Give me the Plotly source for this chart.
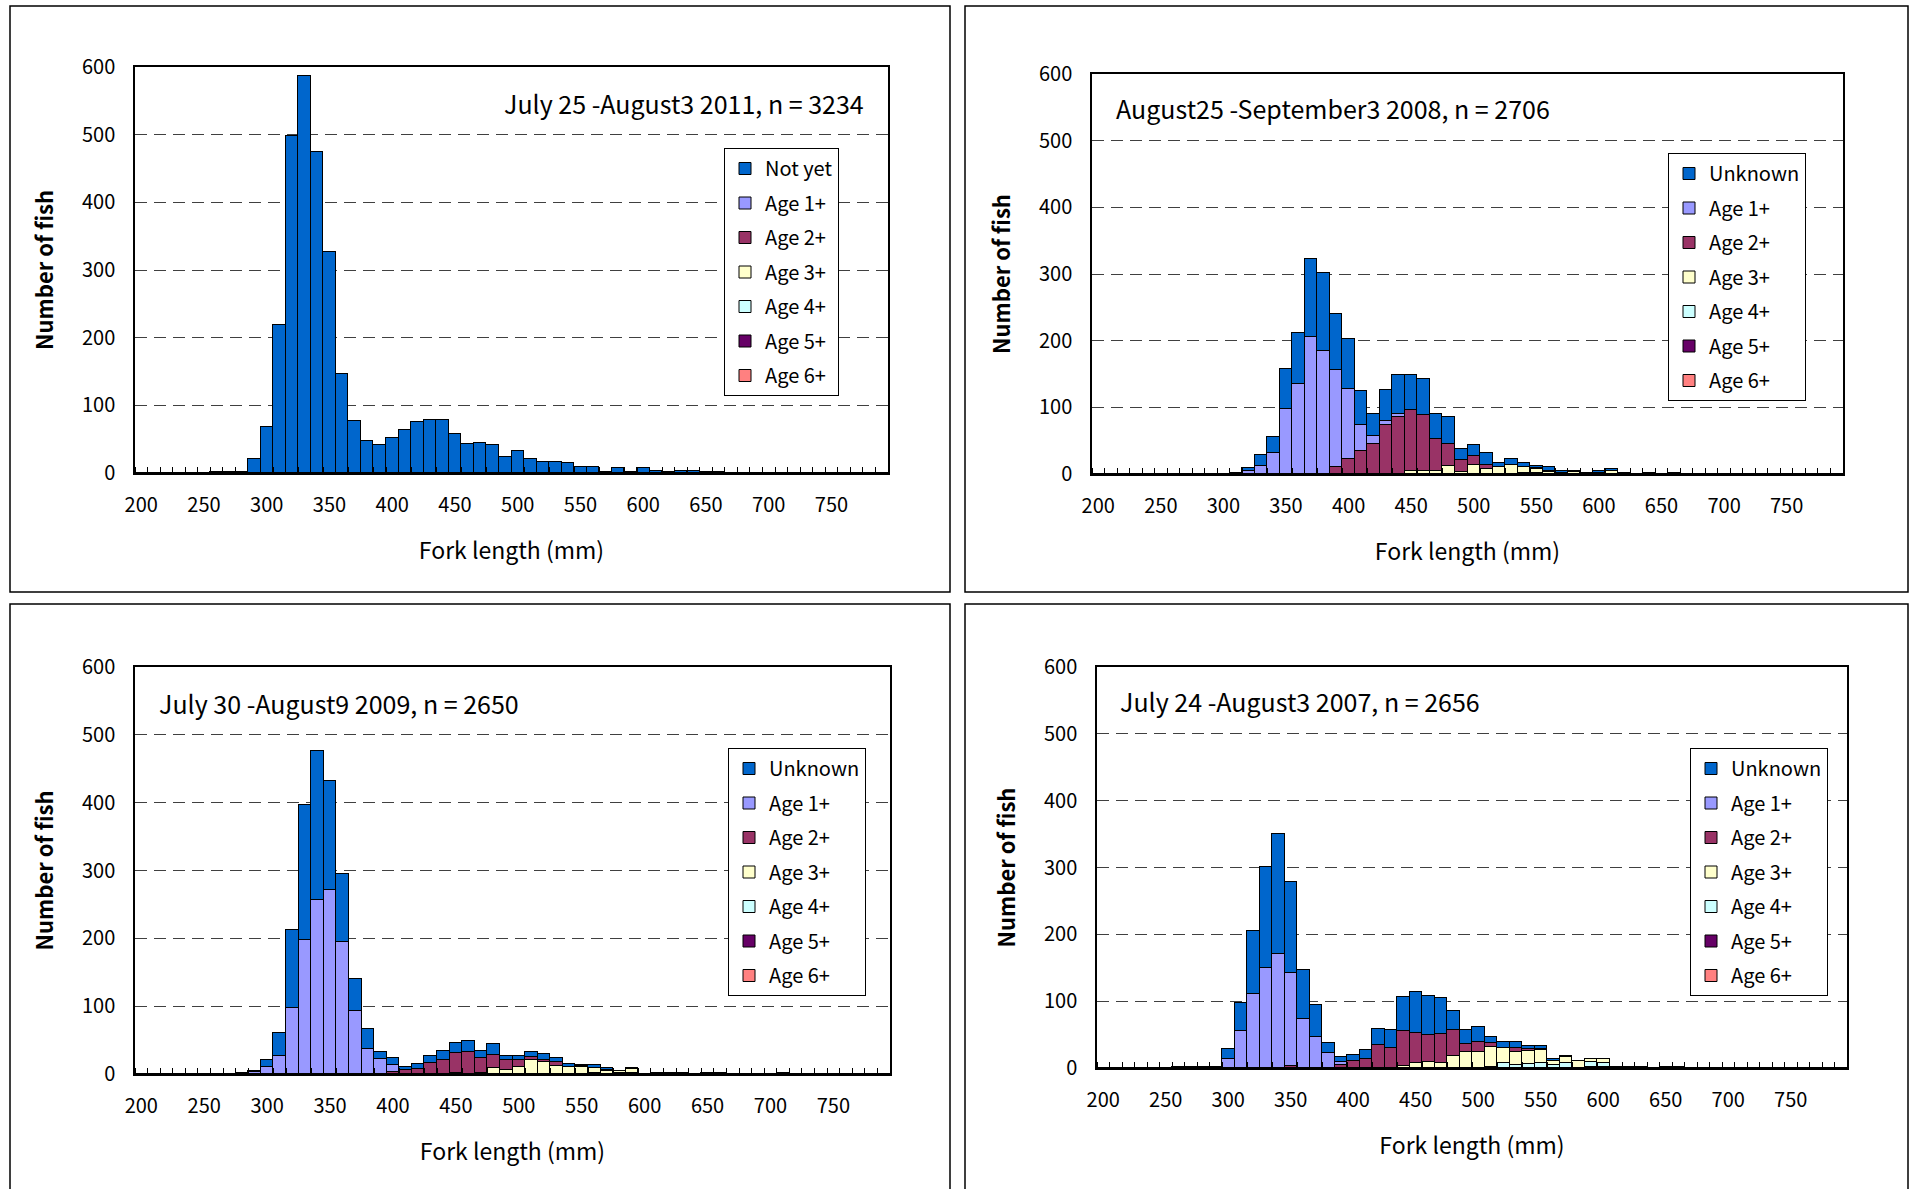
import plotly.graph_objects as go

# ---------------- data ----------------
FORK_LENGTH_BINS = list(range(200, 800, 10))   # category (10 mm classes)
X_TICK_LABELS = [200, 250, 300, 350, 400, 450, 500, 550, 600, 650, 700, 750]
Y_TICK_LABELS = [0, 100, 200, 300, 400, 500, 600]
SERIES_NAMES = ["Unknown", "Age 1+", "Age 2+", "Age 3+", "Age 4+", "Age 5+", "Age 6+"]

# 2011 (July 25 - August 3), n = 3234
Y2011_NOT_YET = {260: 1, 270: 1, 280: 2, 290: 21, 300: 68, 310: 218, 320: 498, 330: 587, 340: 474,
                 350: 327, 360: 147, 370: 77, 380: 48, 390: 41, 400: 52, 410: 64, 420: 76, 430: 78,
                 440: 78, 450: 58, 460: 43, 470: 45, 480: 41, 490: 23, 500: 33, 510: 21, 520: 16,
                 530: 16, 540: 15, 550: 9, 560: 9, 570: 1, 580: 8, 590: 1, 600: 8, 610: 3, 620: 1,
                 630: 3, 640: 3, 650: 1, 660: 1}

# 2008 (August 25 - September 3), n = 2706
Y2008_UNKNOWN = {310: 2, 320: 5, 330: 16, 340: 25, 350: 60, 360: 77, 370: 116, 380: 117, 390: 84,
                 400: 75, 410: 52, 420: 33, 430: 46, 440: 58, 450: 52, 460: 54, 470: 37, 480: 41,
                 490: 17, 500: 17, 510: 17, 520: 6, 530: 9, 540: 6, 550: 3, 560: 5, 570: 3, 580: 2,
                 590: 1, 600: 3, 610: 4, 620: 2, 640: 1, 660: 1}
Y2008_AGE1 = {320: 4, 330: 12, 340: 31, 350: 98, 360: 135, 370: 206, 380: 185, 390: 146, 400: 105,
              410: 38, 420: 12, 430: 7, 440: 4}
Y2008_AGE2 = {390: 10, 400: 22, 410: 35, 420: 45, 430: 73, 440: 86, 450: 91, 460: 83, 470: 48,
              480: 33, 490: 18, 500: 14, 510: 6, 550: 2, 560: 2}
Y2008_AGE3 = {450: 5, 460: 5, 470: 5, 480: 12, 490: 3, 500: 13, 510: 8, 520: 10, 530: 13, 540: 10,
              550: 6, 560: 3, 570: 2, 580: 3, 600: 2, 610: 4}
Y2008_AGE4 = {}
Y2008_AGE5 = {540: 1, 550: 1}
Y2008_AGE6 = {}

# 2009 (July 30 - August 9), n = 2650
Y2009_UNKNOWN = {280: 1, 290: 2, 300: 11, 310: 34, 320: 116, 330: 200, 340: 220, 350: 161, 360: 100,
                 370: 47, 380: 29, 390: 10, 400: 10, 410: 4, 420: 8, 430: 10, 440: 14, 450: 15,
                 460: 15, 470: 10, 480: 16, 490: 6, 500: 6, 510: 7, 520: 9, 530: 6, 540: 4, 550: 2,
                 560: 4, 570: 3, 590: 2, 610: 2, 620: 1, 630: 2, 650: 1, 660: 1, 710: 1}
Y2009_AGE1 = {290: 3, 300: 10, 310: 26, 320: 97, 330: 197, 340: 256, 350: 271, 360: 195, 370: 93,
              380: 37, 390: 22, 400: 10}
Y2009_AGE2 = {400: 3, 410: 6, 420: 7, 430: 16, 440: 20, 450: 30, 460: 33, 470: 22, 480: 19, 490: 14,
              500: 10, 510: 4, 520: 3, 530: 5, 550: 1, 570: 1}
Y2009_AGE3 = {450: 1, 480: 9, 490: 6, 500: 10, 510: 21, 520: 18, 530: 12, 540: 11, 550: 11, 560: 7,
              570: 5, 580: 2, 590: 6}
Y2009_AGE4 = {470: 2}
Y2009_AGE5 = {560: 2, 580: 2, 590: 1}
Y2009_AGE6 = {}

# 2007 (July 24 - August 3), n = 2656
Y2007_UNKNOWN = {260: 1, 270: 1, 280: 1, 290: 1, 300: 16, 310: 43, 320: 95, 330: 151, 340: 180,
                 350: 137, 360: 72, 370: 48, 380: 16, 390: 8, 400: 8, 410: 13, 420: 25, 430: 27,
                 440: 51, 450: 60, 460: 59, 470: 53, 480: 28, 490: 21, 500: 22, 510: 9, 520: 9,
                 530: 9, 540: 4, 550: 5, 560: 4, 570: 2, 610: 1, 620: 1, 630: 1, 650: 1, 660: 1}
Y2007_AGE1 = {300: 13, 310: 55, 320: 110, 330: 150, 340: 170, 350: 139, 360: 74, 370: 47, 380: 22,
              390: 5, 400: 1, 410: 1}
Y2007_AGE2 = {350: 3, 390: 4, 400: 10, 410: 13, 420: 34, 430: 30, 440: 52, 450: 46, 460: 40, 470: 44,
              480: 39, 490: 12, 500: 15, 510: 6, 530: 6, 540: 4, 550: 1}
Y2007_AGE3 = {440: 3, 450: 7, 460: 9, 470: 7, 480: 18, 490: 24, 500: 24, 510: 30, 520: 23, 530: 20,
              540: 19, 550: 19, 560: 6, 570: 8, 580: 10, 590: 5, 600: 6}
Y2007_AGE4 = {520: 7, 530: 4, 540: 6, 550: 8, 560: 4, 570: 8, 590: 7, 600: 7}
Y2007_AGE5 = {510: 2, 590: 2, 600: 1}
Y2007_AGE6 = {}

# ---------------- styles ----------------
COLORS = {"Unknown": "#0066CC", "Age 1+": "#9999FF", "Age 2+": "#993366", "Age 3+": "#FFFFCC",
          "Age 4+": "#CCFFFF", "Age 5+": "#660066", "Age 6+": "#FF8080"}
FONT = "Noto Sans CJK JP"
W, H = 1910, 1189


def fx(p):
    return p / W


def fy(p):
    return 1 - p / H


panels = [
    dict(title="July 25 -August3 2011, n = 3234", first="Not yet",
         data=[Y2011_NOT_YET, {}, {}, {}, {}, {}, {}],
         xdom=(135, 888), ydom=(67, 473), title_pos=(866, 103, "right"), legend=(724, 148),
         box=(10, 6, 950, 592)),
    dict(title="August25 -September3 2008, n = 2706", first="Unknown",
         data=[Y2008_UNKNOWN, Y2008_AGE1, Y2008_AGE2, Y2008_AGE3, Y2008_AGE4, Y2008_AGE5, Y2008_AGE6],
         xdom=(1092, 1843), ydom=(74, 474), title_pos=(1114, 108, "left"), legend=(1668, 153),
         box=(965, 6, 1908, 592)),
    dict(title="July 30 -August9 2009, n = 2650", first="Unknown",
         data=[Y2009_UNKNOWN, Y2009_AGE1, Y2009_AGE2, Y2009_AGE3, Y2009_AGE4, Y2009_AGE5, Y2009_AGE6],
         xdom=(135, 890), ydom=(667, 1074), title_pos=(157, 703, "left"), legend=(728, 748),
         box=(10, 604, 950, 1195)),
    dict(title="July 24 -August3 2007, n = 2656", first="Unknown",
         data=[Y2007_UNKNOWN, Y2007_AGE1, Y2007_AGE2, Y2007_AGE3, Y2007_AGE4, Y2007_AGE5, Y2007_AGE6],
         xdom=(1097, 1847), ydom=(667, 1068), title_pos=(1118, 701, "left"), legend=(1690, 748),
         box=(965, 604, 1908, 1195)),
]

fig = go.Figure()
layout = dict(
    width=W, height=H, margin=dict(l=0, r=0, t=0, b=0, pad=0, autoexpand=False),
    paper_bgcolor="white", plot_bgcolor="white",
    barmode="stack", bargap=0,
    font=dict(family=FONT, color="black", size=20),
    shapes=[], annotations=[],
)

for i, p in enumerate(panels, start=1):
    sfx = "" if i == 1 else str(i)
    legend_name = "legend" + sfx
    names = [p["first"]] + SERIES_NAMES[1:]
    # stack bottom -> top: Age 6+, ..., Age 1+, Unknown on top
    for j in reversed(range(len(names))):
        name = names[j]
        counts = p["data"][j]
        yvals = [counts.get(b, 0) for b in FORK_LENGTH_BINS]
        fig.add_trace(go.Bar(
            x=FORK_LENGTH_BINS, y=yvals, width=10, name=name,
            marker=dict(color=COLORS[SERIES_NAMES[j]], line=dict(color="black", width=1)),
            xaxis="x" + sfx, yaxis="y" + sfx, legend=legend_name,
            legendgroup=f"p{i}_{j}", legendrank=j + 1, showlegend=True,
            hoverinfo="x+y+name",
        ))
    layout["xaxis" + sfx] = dict(
        domain=[fx(p["xdom"][0]), fx(p["xdom"][1])], anchor="y" + sfx, automargin=False,
        range=[195, 795], tickmode="array", tickvals=X_TICK_LABELS,
        ticks="", showgrid=False, zeroline=False,
        showline=True, mirror=True, linecolor="black", linewidth=1.5,
        minor=dict(ticks="inside", tick0=195, dtick=10, ticklen=6, tickcolor="black",
                   tickwidth=1, showgrid=False),
        ticklabelstandoff=13, tickfont=dict(size=20, family=FONT),
        title=dict(text="Fork length (mm)", font=dict(size=23, family=FONT), standoff=26),
    )
    layout["yaxis" + sfx] = dict(
        domain=[fy(p["ydom"][1]), fy(p["ydom"][0])], anchor="x" + sfx, automargin=False,
        range=[0, 600], tickmode="array", tickvals=Y_TICK_LABELS,
        ticks="", showgrid=True, gridcolor="#404040", gridwidth=1.2, griddash="12px,7px",
        zeroline=False, showline=True, mirror=True, linecolor="black", linewidth=1.5,
        ticklabelstandoff=14, tickfont=dict(size=20, family=FONT),
        title=dict(text="Number of fish", font=dict(size=22, family=FONT, weight="bold"), standoff=22),
    )
    layout[legend_name] = dict(
        x=fx(p["legend"][0]), y=fy(p["legend"][1]), xanchor="left", yanchor="top",
        xref="paper", yref="paper",
        bgcolor="white", bordercolor="black", borderwidth=1,
        font=dict(size=20, family=FONT, color="black"),
        traceorder="grouped", tracegroupgap=5.5, itemwidth=30,
    )
    tx, ty, anc = p["title_pos"]
    layout["annotations"].append(dict(
        text=p["title"], x=fx(tx), y=fy(ty), xref="paper", yref="paper",
        xanchor=anc, yanchor="middle", showarrow=False,
        font=dict(size=25, family=FONT, color="black"),
    ))
    x0, y0, x1, y1 = p["box"]
    layout["shapes"].append(dict(
        type="rect", xref="paper", yref="paper",
        x0=fx(x0), x1=fx(x1), y0=fy(y1), y1=fy(y0),
        line=dict(color="black", width=1.5), fillcolor="rgba(0,0,0,0)", layer="above",
    ))

fig.update_layout(**layout)
fig.write_html("out.html")
